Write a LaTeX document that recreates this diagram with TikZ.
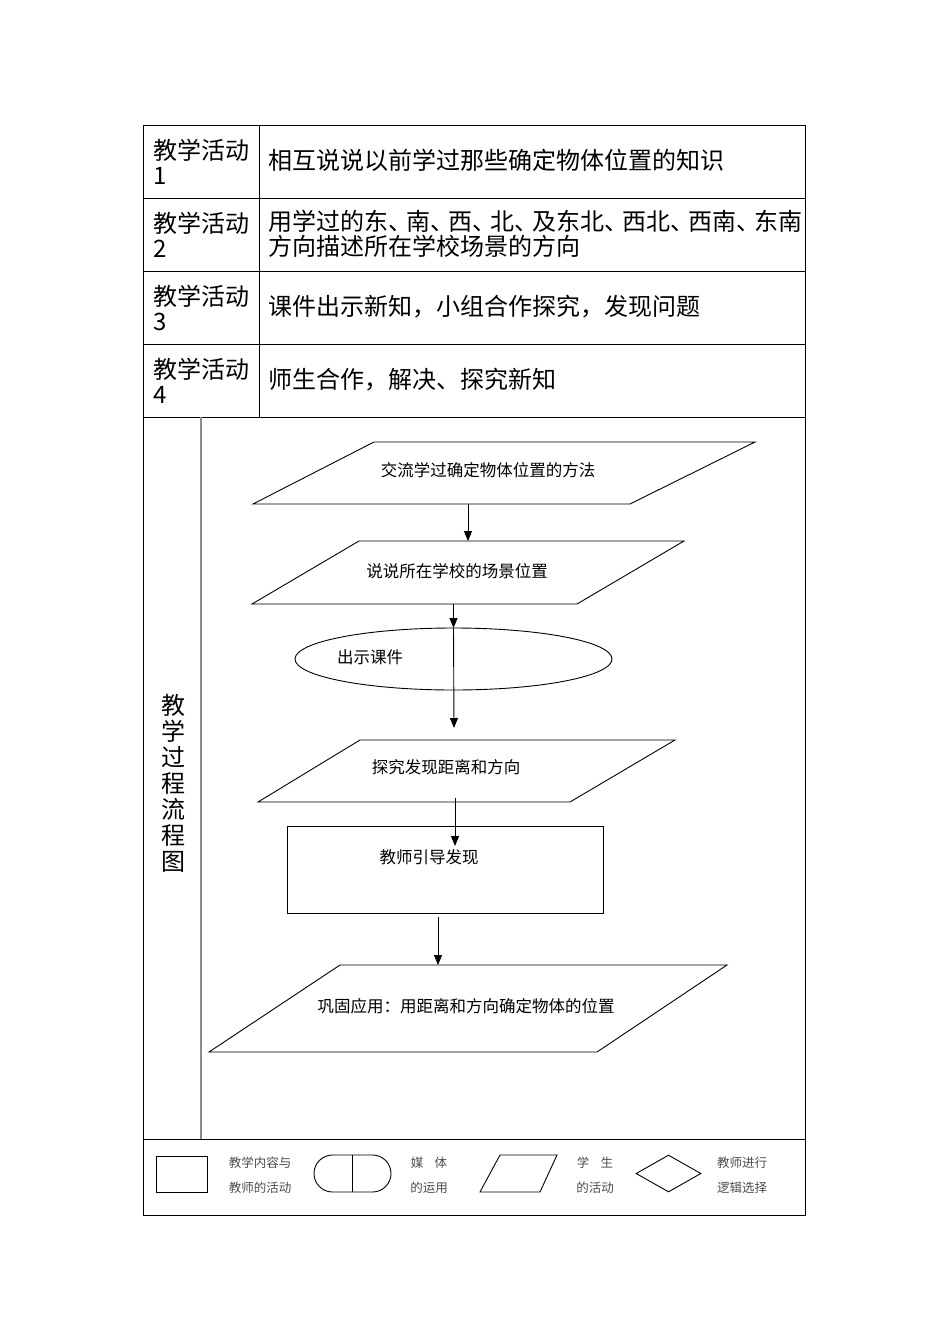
\documentclass[tikz,border=0pt]{standalone}
\usepackage{fontspec}
\setmainfont{Noto Sans CJK SC}
\usetikzlibrary{shapes.geometric,shapes.misc,arrows.meta}
\newcommand{\jeda}{\makebox[0.75em][l]{、}}

\begin{document}
\begin{tikzpicture}[x=1pt,y=-1pt,line width=0.9pt,
      sel/.style={inner sep=0pt,anchor=west,align=left,
        font=\fontsize{24}{25}\selectfont},
      teks/.style={inner sep=0pt,font=\fontsize{16.5}{18}\selectfont},
      ket/.style={inner sep=0pt,align=center,text=black!70,
        font=\fontsize{12.5}{25}\selectfont},
      panah/.style={-{Triangle[length=10pt,width=8pt]}}]

    \useasboundingbox (0,0) rectangle (950,1344);

    % Tabel
    \draw (143,125) rectangle (805,1215);
    \foreach \y in {198,271,344,417,1139}
      \draw (143,\y) -- (805,\y);
    \draw (259,125) -- (259,417);
    \draw[black!45,line width=1.6pt] (201,417) -- (201,1139);

    \node[sel] (k1) at (153,162) {教学活动\\1};
    \node[sel] (k2) at (153,235) {教学活动\\2};
    \node[sel] (k3) at (153,308) {教学活动\\3};
    \node[sel] (k4) at (153,381) {教学活动\\4};
    \node[sel] (i1) at (268,160) {相互说说以前学过那些确定物体位置的知识};
    \node[sel] (i2) at (268,234) {用学过的东\jeda 南\jeda 西\jeda 北\jeda 及东北\jeda 西北\jeda 西南\jeda 东南\\方向描述所在学校场景的方向};
    \node[sel] (i3) at (268,307) {课件出示新知，小组合作探究，发现问题};
    \node[sel] (i4) at (268,380) {师生合作，解决、探究新知};
    \node[sel,anchor=center,align=center,font=\fontsize{24}{26}\selectfont]
      (judul) at (173,783) {教\\学\\过\\程\\流\\程\\图};

    % Diagram alir
    \draw (374,442) -- (755,442) -- (630,504) -- (253,504) -- cycle;
    \draw (359,541) -- (684,541) -- (577,604) -- (252,604) -- cycle;
    \node[draw,ellipse,inner sep=0pt,outer sep=0pt,
      minimum width=317pt,minimum height=62pt] (e) at (453.5,659) {};
    \draw (360,740) -- (675,740) -- (570,802) -- (258,802) -- cycle;
    \node[draw,inner sep=0pt,outer sep=0pt,
      minimum width=316pt,minimum height=87pt] (r) at (445,869.5) {};
    \draw (340,965) -- (727,965) -- (597,1052) -- (209,1052) -- cycle;

    \node[teks] (t1) at (488,470) {交流学过确定物体位置的方法};
    \node[teks] (t2) at (457,571) {说说所在学校的场景位置};
    \node[teks] (t3) at (370,657) {出示课件};
    \node[teks] (t4) at (446,767) {探究发现距离和方向};
    \node[teks] (t5) at (429,857) {教师引导发现};
    \node[teks] (t6) at (466,1006) {巩固应用：用距离和方向确定物体的位置};

    \coordinate (p1b) at (468,504);
    \coordinate (p2a) at (468,541);
    \coordinate (p2b) at (e.north |- 0,604);
    \coordinate (u1) at (454,728);
    \coordinate (p3b) at (455,798);
    \coordinate (u2) at (455,846);
    \coordinate (u3) at (438,917);
    \coordinate (p4a) at (438,965);
    \draw[panah] (p1b) -- (p2a);
    \draw[panah] (p2b) -- (e.north);
    \draw[panah] (e.north) -- (u1);
    \draw[panah] (p3b) -- (u2);
    \draw[panah] (u3) -- (p4a);

    % Keterangan
    \node[draw,inner sep=0pt,minimum width=51pt,minimum height=36pt]
      (lk) at (182,1174) {};
    \node[draw,rounded rectangle,inner sep=0pt,minimum width=77pt,
      minimum height=37pt] (lm) at (352.5,1173.5) {};
    \draw (lm.north) -- (lm.south);
    \draw (500,1155) -- (557,1155) -- (540,1192) -- (480,1192) -- cycle;
    \node[draw,diamond,aspect=1.76,inner sep=0pt,
      minimum width=65pt,minimum height=37pt] (lg) at (668.5,1173.5) {};
    \node[ket] (lk_t) at (260,1175) {教学内容与\\教师的活动};
    \node[ket] (lm_t) at (429,1175) {媒\hspace{0.9em}体\\的运用};
    \node[ket] (ls_t) at (595,1175) {学\hspace{0.9em}生\\的活动};
    \node[ket] (lg_t) at (742,1175) {教师进行\\逻辑选择};
  \end{tikzpicture}
\end{document}
